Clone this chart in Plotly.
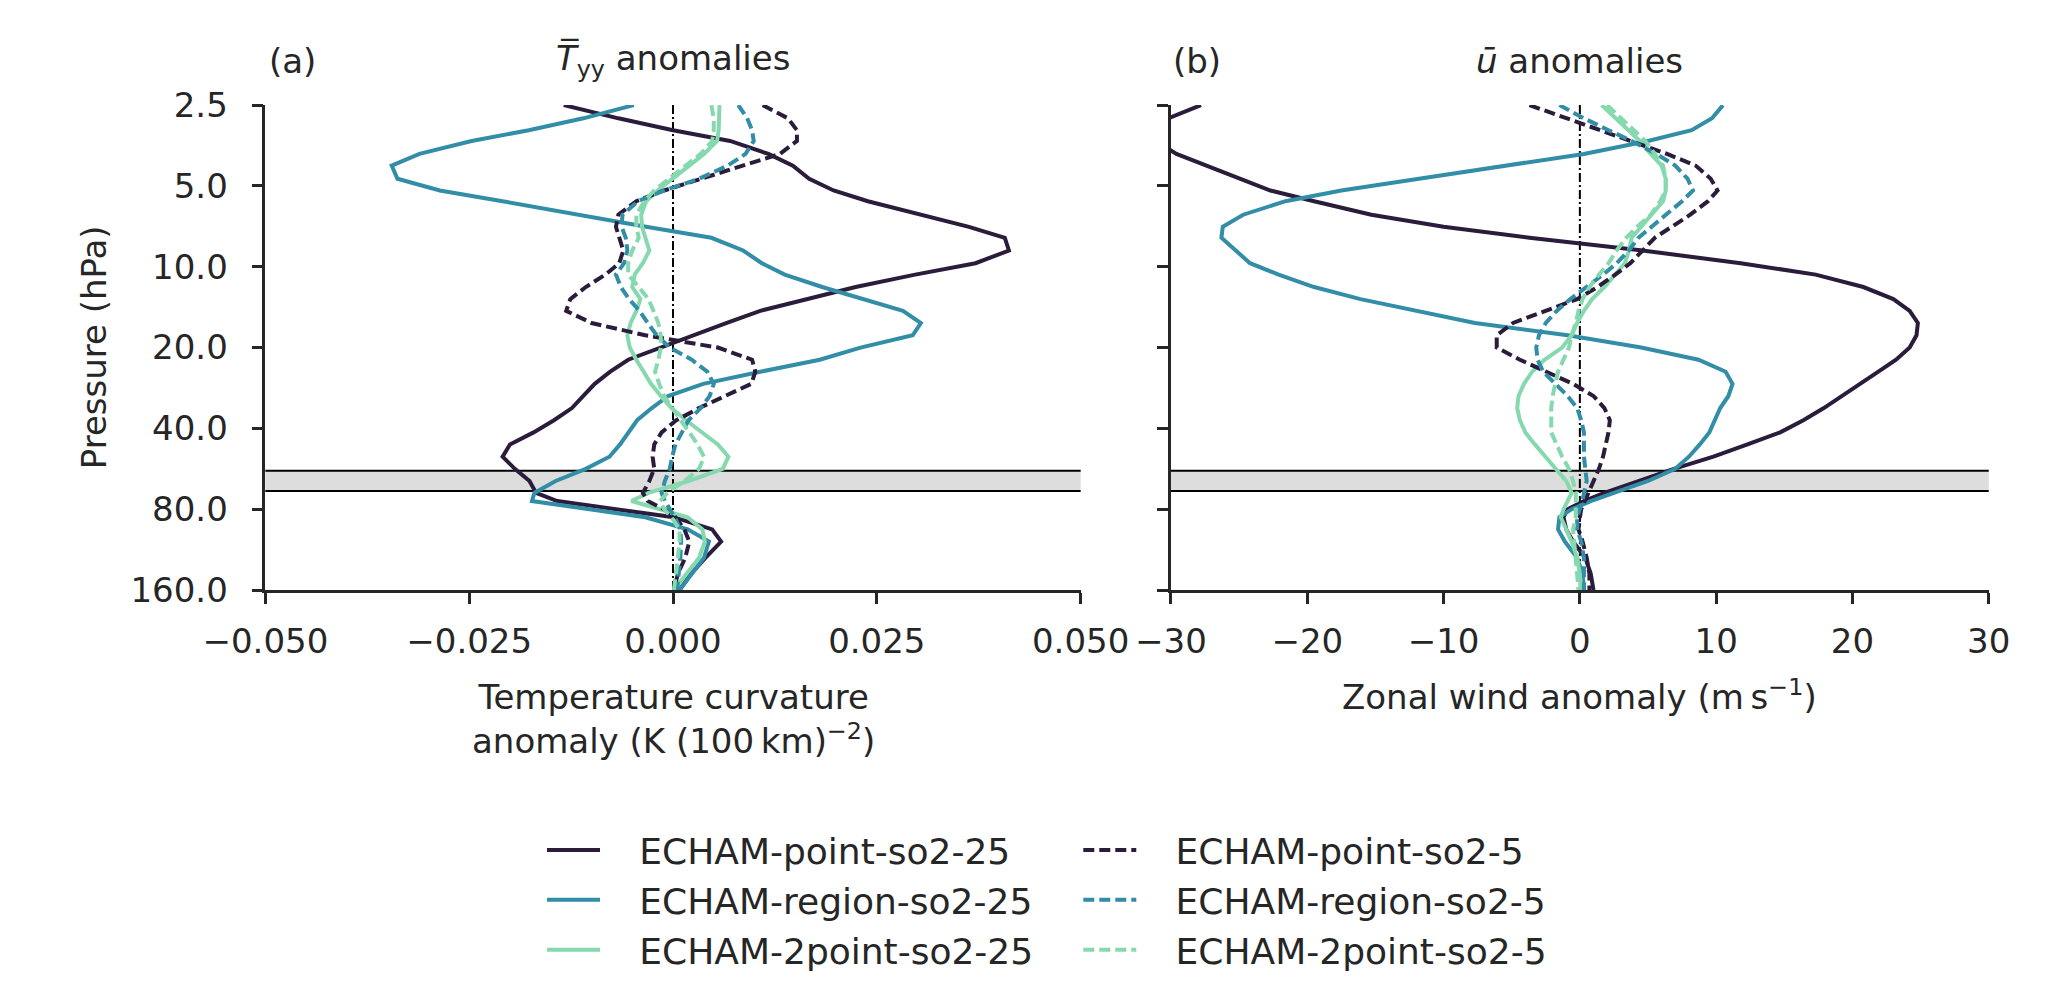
import plotly.graph_objects as go

# pressure levels (hPa), shared by all profiles
pressure = [2.5, 2.8, 3.1, 3.4, 3.8, 4.2, 4.7, 5.2, 5.7, 6.4, 7.1, 7.8, 8.7, 9.7, 10.7,
            11.9, 13.2, 14.6, 16.2, 18.0, 20.0, 22.2, 24.6, 27.3, 30.3, 33.6, 37.3,
            41.4, 45.9, 51.0, 56.6, 62.8, 69.6, 74.6, 80.0, 85.7, 95.1, 105.6, 121.3,
            139.3, 160.0]

# (a) Tyy anomalies, K (100 km)^-2
tyy_point25 = [-0.0134, -0.0067, 0.0000, 0.0070, 0.0117, 0.0147, 0.0167, 0.0197, 0.0239, 0.0303,
               0.0363, 0.0407, 0.0412, 0.0371, 0.0297, 0.0224, 0.0163, 0.0107, 0.0066, 0.0025,
               -0.0015, -0.0055, -0.0077, -0.0096, -0.0110, -0.0124, -0.0146, -0.0171, -0.0200, -0.0209,
               -0.0194, -0.0176, -0.0168, -0.0142, -0.0070, 0.0001, 0.0048, 0.0059, 0.0040, 0.0022, 0.0008]
tyy_region25 = [-0.0048, -0.0110, -0.0177, -0.0247, -0.0311, -0.0345, -0.0338, -0.0286, -0.0209, -0.0119,
                -0.0033, 0.0047, 0.0086, 0.0109, 0.0137, 0.0183, 0.0235, 0.0282, 0.0304, 0.0294,
                0.0230, 0.0180, 0.0107, 0.0037, -0.0006, -0.0026, -0.0044, -0.0054, -0.0065, -0.0078,
                -0.0107, -0.0144, -0.0170, -0.0173, -0.0104, -0.0034, 0.0018, 0.0044, 0.0038, 0.0023, 0.0008]
tyy_2point25 = [0.0057, 0.0057, 0.0056, 0.0054, 0.0038, 0.0020, -0.0001, -0.0019, -0.0033, -0.0039,
                -0.0038, -0.0034, -0.0029, -0.0037, -0.0047, -0.0050, -0.0040, -0.0045, -0.0052, -0.0056,
                -0.0053, -0.0045, -0.0036, -0.0027, -0.0015, -0.0002, 0.0016, 0.0036, 0.0055, 0.0068,
                0.0061, 0.0019, -0.0030, -0.0051, -0.0015, 0.0018, 0.0036, 0.0039, 0.0032, 0.0017, 0.0001]
tyy_point5 = [0.0110, 0.0141, 0.0152, 0.0152, 0.0131, 0.0086, 0.0036, -0.0011, -0.0045, -0.0067,
              -0.0070, -0.0066, -0.0061, -0.0066, -0.0083, -0.0107, -0.0126, -0.0131, -0.0100, -0.0034,
              0.0055, 0.0097, 0.0101, 0.0096, 0.0064, 0.0032, 0.0004, -0.0014, -0.0023, -0.0025,
              -0.0023, -0.0029, -0.0037, -0.0031, -0.0011, 0.0003, 0.0014, 0.0020, 0.0015, 0.0006, 0.0001]
tyy_region5 = [0.0080, 0.0091, 0.0097, 0.0099, 0.0089, 0.0067, 0.0032, -0.0011, -0.0043, -0.0062,
               -0.0063, -0.0058, -0.0056, -0.0060, -0.0070, -0.0064, -0.0054, -0.0041, -0.0031, -0.0020,
               -0.0004, 0.0023, 0.0042, 0.0050, 0.0045, 0.0034, 0.0019, 0.0011, 0.0003, -0.0001,
               -0.0004, -0.0010, -0.0014, -0.0010, -0.0004, 0.0002, 0.0009, 0.0010, 0.0009, 0.0007, 0.0005]
tyy_2point5 = [0.0047, 0.0050, 0.0050, 0.0048, 0.0034, 0.0015, -0.0005, -0.0023, -0.0035, -0.0045,
               -0.0045, -0.0042, -0.0050, -0.0055, -0.0055, -0.0042, -0.0030, -0.0024, -0.0018, -0.0015,
               -0.0015, -0.0018, -0.0022, -0.0017, -0.0011, -0.0001, 0.0010, 0.0020, 0.0030, 0.0038,
               0.0032, 0.0014, -0.0007, -0.0016, -0.0011, -0.0002, 0.0008, 0.0008, 0.0006, 0.0003, 0.0001]

# (b) zonal wind anomalies, m/s
u_point25 = [-27.8, -30.2, -31.3, -31.1, -29.6, -27.4, -25.1, -22.7, -19.5, -15.3,
             -10.0, -3.7, 4.6, 11.8, 17.3, 20.8, 23.0, 24.2, 24.8, 24.7,
             24.2, 23.2, 21.9, 20.6, 19.3, 17.9, 16.4, 14.7, 12.3, 9.8,
             6.9, 4.3, 1.8, 0.3, -0.9, -1.2, -1.0, -0.5, 0.4, 0.8, 1.0]
u_region25 = [10.5, 9.7, 8.2, 5.0, 0.3, -5.2, -11.8, -17.5, -21.6, -24.7,
              -26.2, -26.3, -25.3, -24.2, -22.1, -19.5, -16.1, -12.0, -7.7, -0.9,
              4.5, 8.7, 10.7, 11.2, 10.9, 10.3, 9.9, 9.5, 8.8, 8.0,
              7.0, 5.0, 2.5, 0.8, -0.6, -1.5, -1.6, -1.1, -0.2, 0.2, 0.3]
u_2point25 = [1.6, 2.6, 3.5, 4.4, 5.2, 6.0, 6.3, 6.3, 6.1, 5.3,
              4.5, 3.8, 3.6, 3.3, 2.6, 1.8, 0.9, 0.3, -0.2, -0.6,
              -1.3, -2.6, -3.5, -4.1, -4.5, -4.6, -4.4, -4.0, -3.3, -2.5,
              -1.8, -1.0, -0.6, -0.9, -1.2, -1.4, -1.0, -0.6, -0.2, 0.0, 0.1]
u_point5 = [-3.7, -1.0, 1.5, 3.8, 6.4, 8.5, 9.6, 10.1, 9.4, 8.1,
            6.7, 5.5, 4.6, 3.7, 2.6, 1.3, -0.2, -2.5, -4.9, -6.1,
            -6.1, -4.4, -2.5, -0.5, 1.0, 1.8, 2.2, 2.1, 1.9, 1.7,
            1.4, 1.0, 0.6, 0.4, 0.1, 0.0, -0.1, 0.2, 0.5, 0.7, 0.7]
u_region5 = [-1.5, 0.3, 2.1, 3.8, 5.6, 7.0, 7.9, 8.3, 7.5, 6.3,
             5.2, 4.3, 3.6, 2.7, 1.7, 0.5, -0.7, -1.7, -2.5, -3.0,
             -3.2, -3.1, -2.7, -1.8, -0.9, -0.2, 0.1, 0.3, 0.3, 0.3,
             0.4, 0.5, 0.3, 0.2, 0.0, -0.2, -0.2, 0.1, 0.3, 0.3, 0.3]
u_2point5 = [2.0, 3.0, 3.9, 4.8, 5.5, 6.1, 6.3, 6.3, 5.9, 5.2,
             4.2, 3.4, 2.7, 2.1, 1.4, 0.7, 0.2, -0.1, -0.3, -0.6,
             -0.8, -1.2, -1.6, -1.8, -2.0, -2.1, -2.1, -2.1, -1.7, -1.3,
             -0.8, -0.5, -0.3, -0.3, -0.3, -0.3, -0.5, -0.4, -0.3, -0.2, -0.1]

# shaded pressure band (hPa)
band_top = 57.5
band_bottom = 68.5

pressure_ticks = [2.5, 5, 10, 20, 40, 80, 160]

dark = "#2b1c3b"
teal = "#328ea7"
green = "#86d9ae"
ink = "#262626"
font = "DejaVu Sans"

W, H = 2067, 1005
# the page body adds an 8px offset, so everything is placed 8px up/left
off = 8


def px(x):
    return (x - off) / W


def py(y):
    return 1 - (y - off) / H


runs = [
    ("ECHAM-point-so2-25", tyy_point25, u_point25, dark, "solid", "legend"),
    ("ECHAM-region-so2-25", tyy_region25, u_region25, teal, "solid", "legend"),
    ("ECHAM-2point-so2-25", tyy_2point25, u_2point25, green, "solid", "legend"),
    ("ECHAM-point-so2-5", tyy_point5, u_point5, dark, "11px,5px", "legend2"),
    ("ECHAM-region-so2-5", tyy_region5, u_region5, teal, "11px,5px", "legend2"),
    ("ECHAM-2point-so2-5", tyy_2point5, u_2point5, green, "11px,5px", "legend2"),
]

gap = "\u00a0\u00a0\u00a0"  # space between legend sample and label

fig = go.Figure()

for name, tyy, u, color, dash, leg in runs:
    fig.add_trace(go.Scatter(x=tyy, y=pressure, mode="lines", name=gap + name,
                             line=dict(color=color, width=4, dash=dash),
                             xaxis="x", yaxis="y", legend=leg, showlegend=True))
    fig.add_trace(go.Scatter(x=u, y=pressure, mode="lines", name=gap + name,
                             line=dict(color=color, width=4, dash=dash),
                             xaxis="x2", yaxis="y2", legend=leg, showlegend=False))

shapes = []
for xa, ya in [("x", "y"), ("x2", "y2")]:
    shapes.append(dict(type="rect", xref=xa + " domain", yref=ya, x0=0, x1=1,
                       y0=band_top, y1=band_bottom, fillcolor="#dddddd",
                       line=dict(width=0), layer="below"))
    for yb in [band_top, band_bottom]:
        shapes.append(dict(type="line", xref=xa + " domain", yref=ya, x0=0, x1=1,
                           y0=yb, y1=yb, line=dict(color="black", width=2), layer="below"))
    shapes.append(dict(type="line", xref=xa, yref=ya + " domain", x0=0, x1=0, y0=0, y1=1,
                       line=dict(color="black", width=2, dash="9px,3px,2px,3px"), layer="below"))

axis_style = dict(showline=True, linecolor=ink, linewidth=2.5, ticks="outside",
                  ticklen=11, tickwidth=2.5, tickcolor=ink, showgrid=False, zeroline=False,
                  tickfont=dict(family=font, size=34, color=ink), mirror=False)

xa_dom = [px(213.5), px(1075.5)]
xb_dom = [px(1171), px(2035.6)]
y_dom = [py(593.3), py(88.3)]
log_range = [2.2041, 0.3979]  # log10(160) .. log10(2.5), reversed

legend_style = dict(xanchor="left", yanchor="top", orientation="v", bgcolor="rgba(0,0,0,0)",
                    font=dict(family=font, size=36, color=ink), itemwidth=53, tracegroupgap=0)

fig.update_layout(
    width=W, height=H,
    margin=dict(l=0, r=0, t=0, b=0),
    paper_bgcolor="white", plot_bgcolor="white",
    font=dict(family=font, color=ink, size=34),
    xaxis=dict(domain=xa_dom, range=[-0.05, 0.05], tickvals=[-0.05, -0.025, 0, 0.025, 0.05],
               tickformat=".3f", anchor="y", ticklabelstandoff=8, **axis_style),
    yaxis=dict(domain=y_dom, type="log", range=log_range, tickvals=pressure_ticks,
               tickformat=".1f", anchor="x", ticklabelstandoff=17, **axis_style),
    xaxis2=dict(domain=xb_dom, range=[-30, 30], tickvals=[-30, -20, -10, 0, 10, 20, 30],
                anchor="y2", ticklabelstandoff=8, **axis_style),
    yaxis2=dict(domain=y_dom, type="log", range=log_range, tickvals=pressure_ticks,
                showticklabels=False, anchor="x2", **axis_style),
    shapes=shapes,
    legend=dict(x=px(506), y=py(833), **legend_style),
    legend2=dict(x=px(1073), y=py(833), **legend_style),
)

ann = dict(showarrow=False, xref="paper", yref="paper", font=dict(family=font, size=34, color=ink))
fig.add_annotation(text="(a)", x=px(215), y=py(42), xanchor="left", yanchor="middle", **ann)
fig.add_annotation(text="<i>T\u0305</i><sub>yy</sub> anomalies", x=sum(xa_dom) / 2, y=py(42),
                   xanchor="center", yanchor="middle", **ann)
fig.add_annotation(text="(b)", x=px(1171), y=py(42), xanchor="left", yanchor="middle", **ann)
fig.add_annotation(text="<i>\u016b</i> anomalies", x=sum(xb_dom) / 2, y=py(42),
                   xanchor="center", yanchor="middle", **ann)
fig.add_annotation(text="Pressure (hPa)", x=px(32), y=sum(y_dom) / 2, textangle=-90,
                   xanchor="center", yanchor="middle", **ann)
fig.add_annotation(text="Temperature curvature<br>anomaly (K (100\u2009km)<sup>\u22122</sup>)",
                   x=sum(xa_dom) / 2, y=py(728), xanchor="center", yanchor="middle", **ann)
fig.add_annotation(text="Zonal wind anomaly (m\u2009s<sup>\u22121</sup>)",
                   x=sum(xb_dom) / 2, y=py(703), xanchor="center", yanchor="middle", **ann)

fig.write_html("out.html")
